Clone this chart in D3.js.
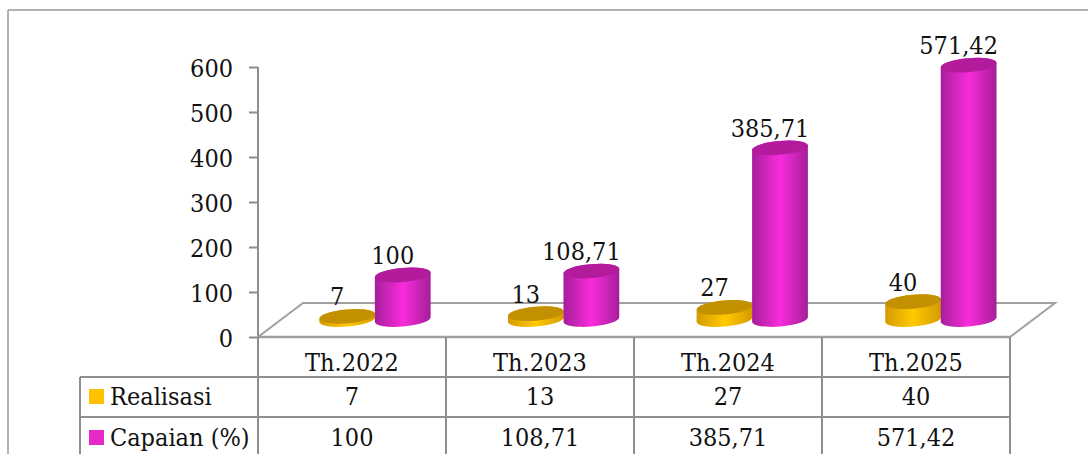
<!DOCTYPE html>
<html><head><meta charset="utf-8">
<script src="https://cdnjs.cloudflare.com/ajax/libs/d3/7.8.5/d3.min.js"></script>
<style>html,body{margin:0;padding:0;background:#fff}svg{display:block}
text{font-family:"DejaVu Serif Condensed","DejaVu Serif",serif;font-stretch:condensed;font-size:25px;fill:#111}</style>
</head><body><svg id="c" width="1088" height="454"></svg>
<script>
const categories = ["Th.2022","Th.2023","Th.2024","Th.2025"];
const seriesNames = ["Realisasi","Capaian (%)"];
const realisasi = [7,13,27,40];
const capaian = [100,108.71,385.71,571.42];
const realisasiLabels = ["7","13","27","40"];
const capaianLabels = ["100","108,71","385,71","571,42"];
const yTicks = [0,100,200,300,400,500,600];

const svg = d3.select("#c");
const GRID = "#8e8e8e";
const W = 1088, H = 454;
const x0 = 258, x1 = 1010, y0 = 337, yTop = 67, depthX = 45, depthY = 34;

const xFront = d3.scaleBand().domain(categories).range([x0, x1]);
const xFloor = d3.scaleBand().domain(categories).range([x0, x1 + 2.5]);
const xSeries = d3.scaleBand().domain(seriesNames).range([61.5, 172.5]);
const yAxisScale = d3.scaleLinear().domain([0,600]).range([y0, yTop]);
const yBar = d3.scaleLinear().domain([0,600]).range([319.5, 319.5 - 0.445*600]);

const defs = svg.append("defs");
function grad(id, edge, mid){
  const g = defs.append("linearGradient").attr("id", id).attr("x1",0).attr("x2",1).attr("y1",0).attr("y2",0);
  [[0,edge],[0.5,mid],[1,edge]].forEach(([o,c]) => g.append("stop").attr("offset",o).attr("stop-color",c));
}
grad("gO","#d59a00","#ffca00");
grad("gM","#a51e9a","#f92cdc");

const line = (a,b,c,d,w=2,col=GRID) => svg.append("line").attr("x1",a).attr("y1",b).attr("x2",c).attr("y2",d)
  .attr("stroke",col).attr("stroke-width",w);

line(8,10,W,10,1.5,"#999");
line(8,10,8,H,1.5,"#999");

svg.append("path").attr("fill","none").attr("stroke","#a0a0a0").attr("stroke-width",2)
  .attr("d",d3.line()([[x0,y0],[x0+depthX,y0-depthY],[x1+depthX,y0-depthY],[x1,y0]]));

const yAxis = d3.axisLeft(yAxisScale).tickValues(yTicks).tickSize(9).tickPadding(16).tickFormat(d3.format("d"));
const gy = svg.append("g").attr("transform",`translate(${x0},0)`).call(yAxis);
gy.selectAll("path,line").attr("stroke",GRID).attr("stroke-width",2);
gy.select("path").attr("d",`M0,${yTop}V${y0}`);
gy.selectAll("text").attr("fill","#111").attr("dy","0.38em").style("font-size","25px");

line(x0,y0,x1,y0,2.5,"#a0a0a0");
[377,417].forEach(y => line(80,y,x1,y));
line(80,377,80,H);
categories.concat(["end"]).forEach((c,i)=>{
  const x = x0 + i*xFront.step();
  line(x,y0,x,H);
});

const rows = [
  {name:seriesNames[0], labels:realisasiLabels, values:realisasi, color:"#ffc000", grad:"gO", top:"#c29000", base:405},
  {name:seriesNames[1], labels:capaianLabels, values:capaian, color:"#e62ac8", grad:"gM", top:"#b21c9c", base:446}
];

categories.forEach(c => svg.append("text").attr("x",xFront(c)+xFront.bandwidth()/2).attr("y",371).attr("text-anchor","middle").text(c));
rows.forEach(r=>{
  svg.append("rect").attr("x",89).attr("y",r.base-16).attr("width",15).attr("height",15).attr("fill",r.color);
  svg.append("text").attr("x",110).attr("y",r.base).text(r.name);
  categories.forEach((c,i)=>svg.append("text").attr("x",xFront(c)+xFront.bandwidth()/2).attr("y",r.base).attr("text-anchor","middle").text(r.labels[i]));
});

const rx = 28, ry = 7, rot = -5;
const dx = rx*Math.cos(rot*Math.PI/180), dy = rx*Math.sin(rot*Math.PI/180);
rows.forEach(r=>{
  const g = svg.append("g");
  categories.forEach((c,i)=>{
    const cx = xFloor(c)+xSeries(r.name)+xSeries.bandwidth()/2;
    const yb = yBar(0), yt = yBar(r.values[i]);
    g.append("path").attr("fill",`url(#${r.grad})`)
      .attr("d",`M${cx-dx},${yt-dy}L${cx-dx},${yb-dy}A${rx},${ry} ${rot} 0 0 ${cx+dx},${yb+dy}L${cx+dx},${yt+dy}A${rx},${ry} ${rot} 0 0 ${cx-dx},${yt-dy}Z`);
    g.append("ellipse").attr("cx",cx).attr("cy",yt).attr("rx",rx).attr("ry",ry)
      .attr("transform",`rotate(${rot} ${cx} ${yt})`).attr("fill",r.top);
    svg.append("text").attr("x",cx-10).attr("y",yt-11).attr("text-anchor","middle").text(r.labels[i]);
  });
});
</script></body></html>
